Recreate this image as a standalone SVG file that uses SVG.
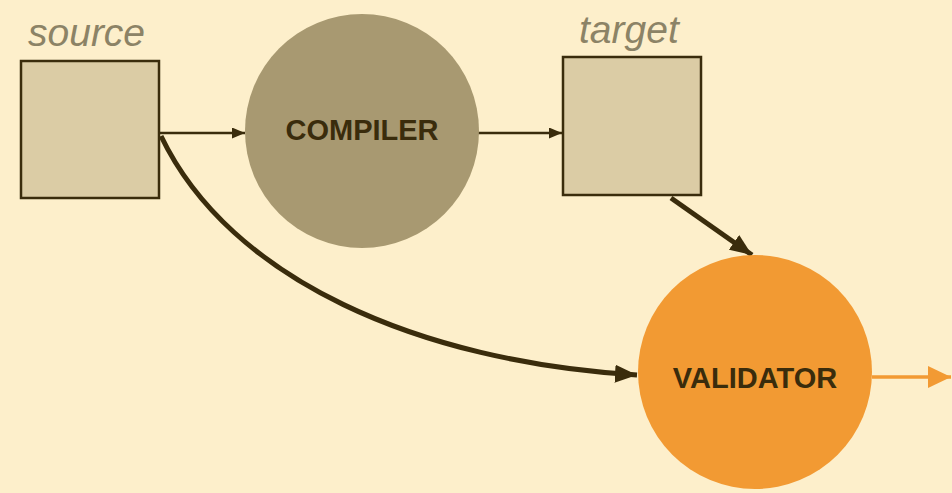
<svg xmlns="http://www.w3.org/2000/svg" width="952" height="493" viewBox="0 0 952 493">
<style>
.box{fill:#DBCCA5;stroke:#3A2C0C;stroke-width:2.5}
.lbl{font-family:"Liberation Sans",Arial,sans-serif;font-style:italic;font-size:39px;fill:#8C8366}
.ttl{font-family:"Liberation Sans",Arial,sans-serif;font-weight:bold;font-size:29px;fill:#3A2C0C;text-anchor:middle}
.thin{fill:none;stroke:#3A2C0C;stroke-width:2.5}
.thick{fill:none;stroke:#3A2C0C;stroke-width:5}
</style>
<defs>
<marker id="ah" viewBox="0 0 13 11" refX="13" refY="5.5" markerWidth="13" markerHeight="11" markerUnits="userSpaceOnUse" orient="auto"><path d="M0,0 L13,5.5 L0,11 Z" fill="#3A2C0C"/></marker>
<marker id="ahb" viewBox="0 0 22 18" refX="22" refY="9" markerWidth="22" markerHeight="18" markerUnits="userSpaceOnUse" orient="auto"><path d="M0,0 L22,9 L0,18 Z" fill="#3A2C0C"/></marker>
<marker id="aho" viewBox="0 0 23 22" refX="23" refY="11" markerWidth="23" markerHeight="22" markerUnits="userSpaceOnUse" orient="auto"><path d="M0,0 L23,11 L0,22 Z" fill="#F29A33"/></marker>
</defs>
<rect width="952" height="493" fill="#FDEFCB"/>
<g id="connectors">
<path class="thin" d="M160,133 L245,133" marker-end="url(#ah)"/>
<path class="thin" d="M478,133 L562,133" marker-end="url(#ah)"/>
<path class="thick" d="M671,198 L752,255" marker-end="url(#ahb)"/>
<path class="thick" d="M161,136 C230,280 420,362 637,375" marker-end="url(#ahb)"/>
<path d="M872,377 L951,377" fill="none" stroke="#F29A33" stroke-width="3.5" marker-end="url(#aho)"/>
</g>
<g id="source">
<rect class="box" x="21" y="61" width="138" height="137"/>
<text class="lbl" x="28" y="46">source</text>
</g>
<g id="compiler">
<circle cx="362" cy="131" r="117" fill="#A89971"/>
<text class="ttl" x="362" y="140">COMPILER</text>
</g>
<g id="target">
<rect class="box" x="563" y="57" width="138" height="138"/>
<text class="lbl" x="579" y="43">target</text>
</g>
<g id="validator">
<circle cx="755" cy="372" r="117" fill="#F29A33"/>
<text class="ttl" x="755" y="388">VALIDATOR</text>
</g>
</svg>
